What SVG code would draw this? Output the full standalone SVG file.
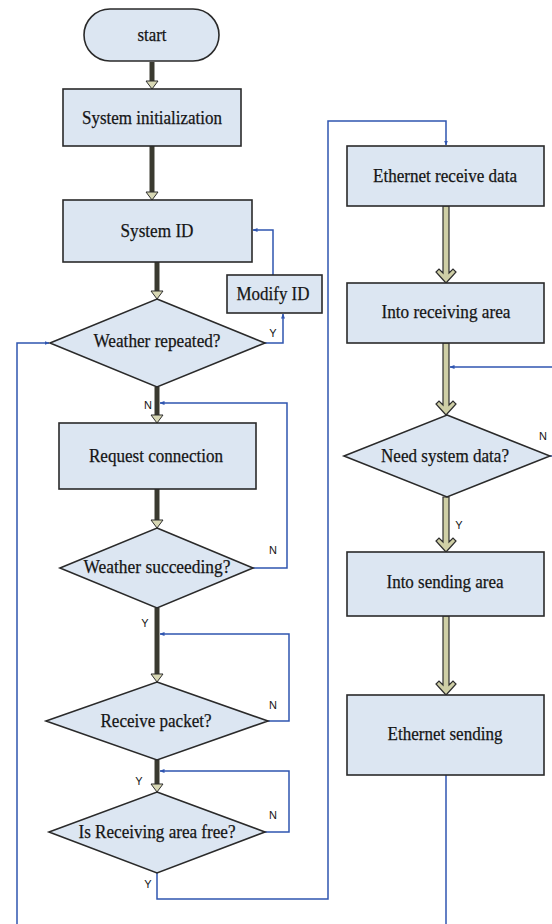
<svg xmlns="http://www.w3.org/2000/svg" width="552" height="924" viewBox="0 0 552 924">
<defs>
<marker id="ah" viewBox="0 0 10 10" refX="9" refY="5" markerWidth="5" markerHeight="5" orient="auto" markerUnits="userSpaceOnUse">
<path d="M0,1 L10,5 L0,9 Z" fill="#2f55b0"/>
</marker>
<style>
.box{fill:#dce6f2;stroke:#2a2a2a;stroke-width:1.6}
.t{font-family:"Liberation Serif","Times New Roman",serif;font-size:19px;fill:#151515;stroke:#151515;stroke-width:0.25;text-anchor:middle}
.l{font-family:"Liberation Sans",Arial,sans-serif;font-size:11px;fill:#151515;text-anchor:middle}
.b{fill:none;stroke:#2f55b0;stroke-width:1.5}
.dk{stroke:#3a3a30;stroke-width:5}
.dh{fill:#d8d8b4;stroke:#2e2e2e;stroke-width:1}
.kv{fill:#cfcfa6;stroke:#2e2e2e;stroke-width:1.2}
</style>
</defs>
<rect width="552" height="924" fill="#ffffff"/>

<g id="connectors">
<line class="dk" x1="152" y1="62" x2="152" y2="82"/><polygon class="dh" points="146,81 158,81 152,89"/>
<line class="dk" x1="152" y1="146" x2="152" y2="193"/><polygon class="dh" points="146,192 158,192 152,200"/>
<line class="dk" x1="157" y1="262" x2="157" y2="292"/><polygon class="dh" points="151,291 163,291 157,299"/>
<line class="dk" x1="157" y1="387" x2="157" y2="416"/><polygon class="dh" points="151,415 163,415 157,423"/>
<line class="dk" x1="157" y1="489" x2="157" y2="521"/><polygon class="dh" points="151,520 163,520 157,528"/>
<line class="dk" x1="157" y1="608" x2="157" y2="675"/><polygon class="dh" points="151,674 163,674 157,682"/>
<line class="dk" x1="157" y1="760" x2="157" y2="785"/><polygon class="dh" points="151,784 163,784 157,792"/>
<path class="kv" d="M443,206 H449 V273 L453,269 L456,272 L446,283 L436,272 L439,269 L443,273 Z"/>
<path class="kv" d="M443,343 H449 V405 L453,401 L456,404 L446,415 L436,404 L439,401 L443,405 Z"/>
<path class="kv" d="M443,497 H449 V542 L453,538 L456,541 L446,552 L436,541 L439,538 L443,542 Z"/>
<path class="kv" d="M443,616 H449 V685 L453,681 L456,684 L446,695 L436,684 L439,681 L443,685 Z"/>
<polyline class="b" points="273,275 273,230 253,230" marker-end="url(#ah)"/>
<polyline class="b" points="265,343 283,343 283,314" marker-end="url(#ah)"/>
<polyline class="b" points="253,568 287,568 287,403 160,403" marker-end="url(#ah)"/>
<polyline class="b" points="268,721 289,721 289,634 160,634" marker-end="url(#ah)"/>
<polyline class="b" points="265,832 289,832 289,771 160,771" marker-end="url(#ah)"/>
<polyline class="b" points="157,873 157,899 328,899 328,121 446,121 446,145" marker-end="url(#ah)"/>
<polyline class="b" points="17,924 17,343 49,343" marker-end="url(#ah)"/>
<polyline class="b" points="552,367 450,367" marker-end="url(#ah)"/>
<line class="b" x1="550" y1="456" x2="552" y2="456"/>
<line class="b" x1="446" y1="775" x2="446" y2="924"/>
</g>

<g id="start"><rect class="box" x="84" y="9" width="135" height="52" rx="26"/><text class="t" x="152" y="41" textLength="29" lengthAdjust="spacingAndGlyphs">start</text></g>
<g id="init"><rect class="box" x="63" y="89" width="178" height="57"/><text class="t" x="152" y="124" textLength="140" lengthAdjust="spacingAndGlyphs">System initialization</text></g>
<g id="sysid"><rect class="box" x="63" y="200" width="189" height="62"/><text class="t" x="157" y="237" textLength="73" lengthAdjust="spacingAndGlyphs">System ID</text></g>
<g id="modify"><rect class="box" x="227" y="275" width="95" height="38"/><text class="t" x="273" y="300" textLength="73" lengthAdjust="spacingAndGlyphs">Modify ID</text></g>
<g id="repeated"><polygon class="box" points="157,299 265,343 157,387 50,343"/><text class="t" x="157" y="347" textLength="127" lengthAdjust="spacingAndGlyphs">Weather repeated?</text></g>
<g id="request"><rect class="box" x="59" y="423" width="197" height="66"/><text class="t" x="156" y="462" textLength="134" lengthAdjust="spacingAndGlyphs">Request connection</text></g>
<g id="succeeding"><polygon class="box" points="157,528 253,568 157,608 60,568"/><text class="t" x="157" y="573" textLength="147" lengthAdjust="spacingAndGlyphs">Weather succeeding?</text></g>
<g id="packet"><polygon class="box" points="157,682 268,721 157,760 46,721"/><text class="t" x="156" y="727" textLength="111" lengthAdjust="spacingAndGlyphs">Receive packet?</text></g>
<g id="free"><polygon class="box" points="157,792 265,832 157,873 49,832"/><text class="t" x="157" y="838" textLength="157" lengthAdjust="spacingAndGlyphs">Is Receiving area free?</text></g>
<g id="ethrecv"><rect class="box" x="347" y="146" width="197" height="60"/><text class="t" x="445" y="182" textLength="144" lengthAdjust="spacingAndGlyphs">Ethernet receive data</text></g>
<g id="intorecv"><rect class="box" x="347" y="283" width="197" height="60"/><text class="t" x="446" y="318" textLength="129" lengthAdjust="spacingAndGlyphs">Into receiving area</text></g>
<g id="need"><polygon class="box" points="447,415 550,456 447,497 344,456"/><text class="t" x="445" y="462" textLength="128" lengthAdjust="spacingAndGlyphs">Need system data?</text></g>
<g id="intosend"><rect class="box" x="347" y="552" width="197" height="64"/><text class="t" x="445" y="588" textLength="117" lengthAdjust="spacingAndGlyphs">Into sending area</text></g>
<g id="ethsend"><rect class="box" x="347" y="695" width="197" height="80"/><text class="t" x="445" y="740" textLength="115" lengthAdjust="spacingAndGlyphs">Ethernet sending</text></g>

<g id="labels">
<text class="l" x="273" y="337">Y</text>
<text class="l" x="148" y="409">N</text>
<text class="l" x="273" y="554">N</text>
<text class="l" x="145" y="627">Y</text>
<text class="l" x="273" y="709">N</text>
<text class="l" x="139" y="785">Y</text>
<text class="l" x="273" y="819">N</text>
<text class="l" x="148" y="888">Y</text>
<text class="l" x="543" y="440">N</text>
<text class="l" x="459" y="529">Y</text>
</g>
</svg>
